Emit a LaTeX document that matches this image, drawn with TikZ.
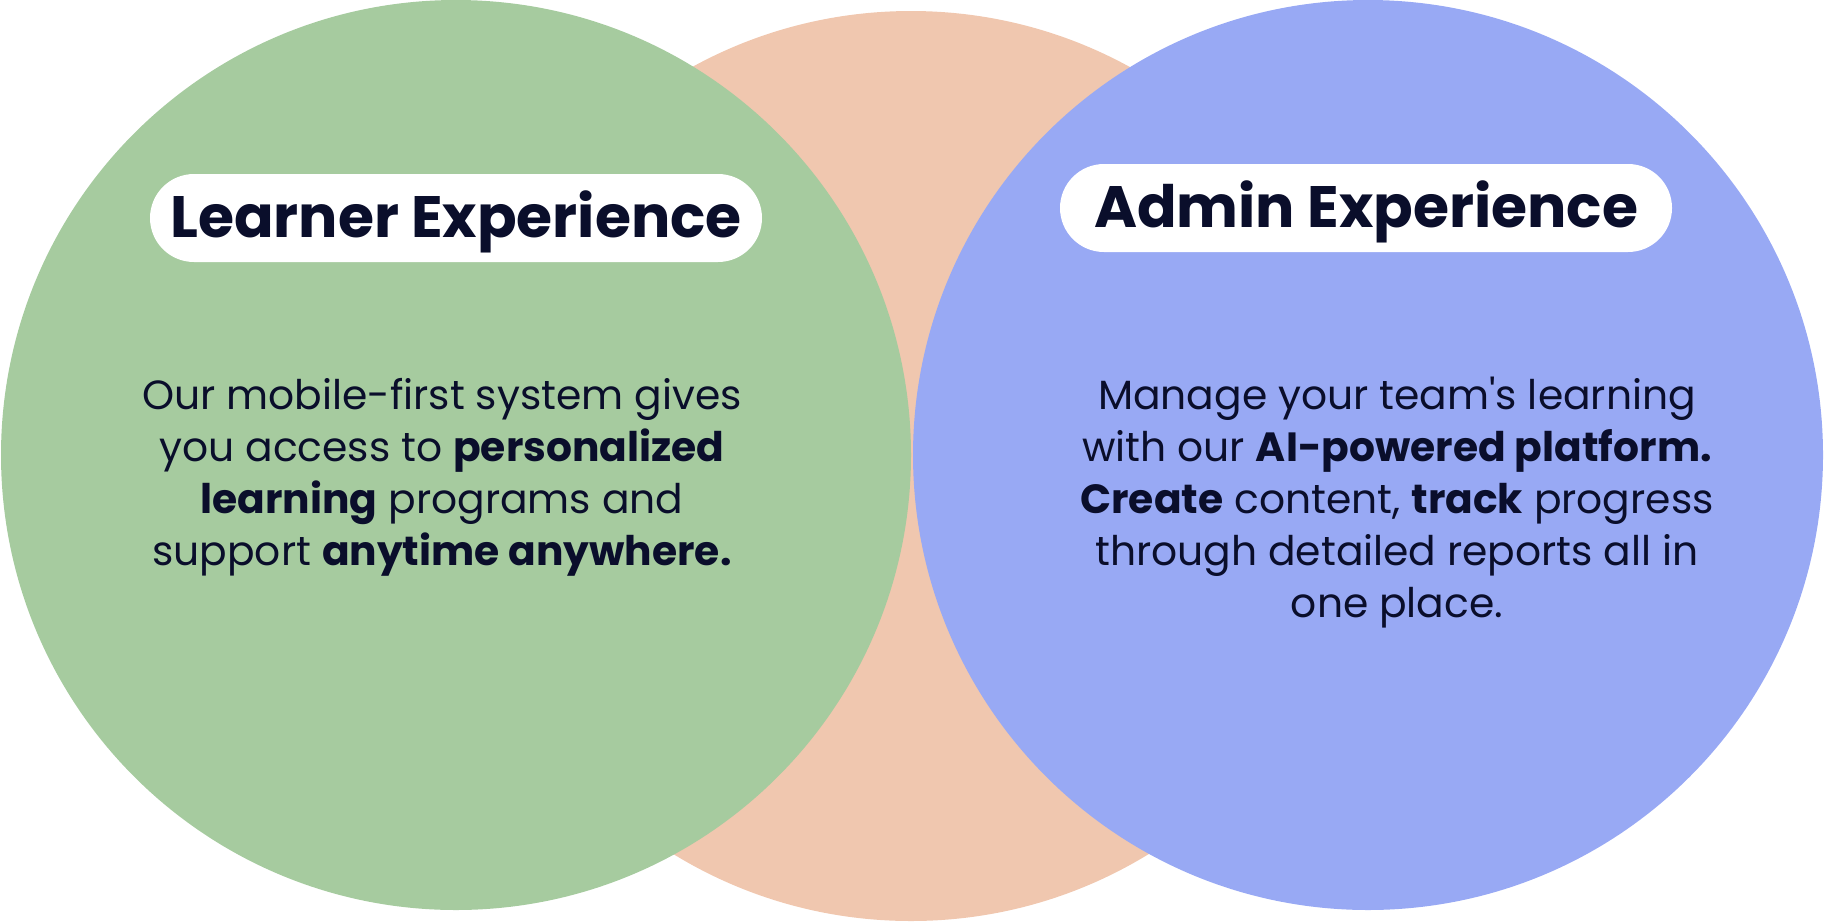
\documentclass[tikz,border=0pt]{standalone}
\usepackage{fontspec}
\setmainfont{Poppins}
\usepackage{tkz-euclide}
\usetikzlibrary{calc}
\definecolor{learnergreen}{HTML}{A6CB9F}
\definecolor{middlepeach}{HTML}{F0C7AF}
\definecolor{adminblue}{HTML}{98A9F4}
\definecolor{inkblue}{HTML}{0A0E2B}

\begin{document}
\begin{tikzpicture}[x=0.5pt,y=-0.5pt,
        badge/.style={fill=white,rounded corners=22pt,minimum width=306pt,minimum height=44pt,
            inner sep=0pt,text=inkblue,font=\fontsize{29.2}{29.2}\selectfont\bfseries,
            text height=21pt,text depth=2pt},
        blurb/.style={align=center,inner sep=0pt,text=inkblue,font=\fontsize{20.4}{26}\selectfont}]
                \useasboundingbox (0,0) rectangle (1824,922);

                \tkzDefPoint(911,466){P}
                \tkzDefPoint(456,455){G}
                \tkzDefPoint(1368,455){B}

                \fill[middlepeach] (P) circle (455);
                \fill[learnergreen] (G) circle (455);
                \fill[adminblue] (B) circle (455);

                \node[badge] (learner) at (456,218) {Learner Experience};
                \node[badge] (admin) at (1366,208) {Admin Experience};

                \node[blurb,anchor=base] (learnertext) at (442,565)
                    {Our mobile-first system gives\\ you access to \textbf{personalized}\\
                     \textbf{learning} programs and\\ support \textbf{anytime anywhere.}};
                \node[blurb,anchor=base] (admintext) at (1397,617)
                    {Manage your team\textquotesingle s learning\\ with our \textbf{AI-powered platform.}\\
                     \textbf{Create} content, \textbf{track} progress\\ through detailed reports all in\\ one place.};
            \end{tikzpicture}
\end{document}
